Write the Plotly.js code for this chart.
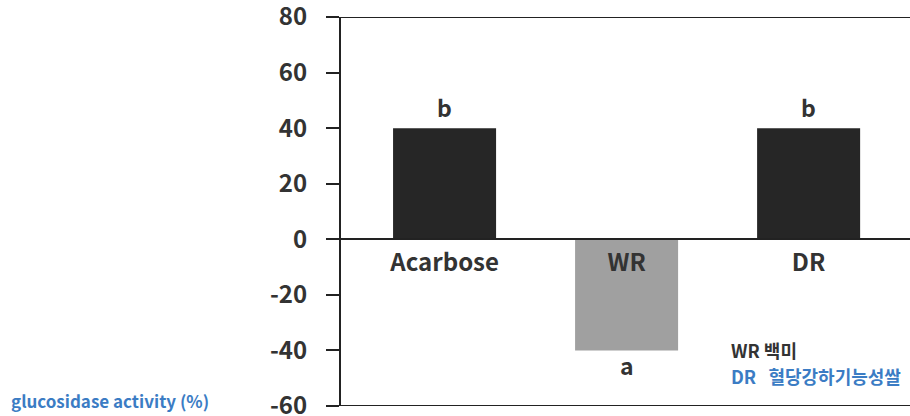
<!DOCTYPE html>
<html><head><meta charset="utf-8">
<script src="https://cdn.plot.ly/plotly-3.0.1.min.js"></script>
<style>body{margin:0;background:#fff}#c{width:910px;height:416px}</style>
</head><body><div id="c"></div>
<script>
const categories = ["Acarbose", "WR", "DR"];
const values = [40, -40, 40];
const letters = ["b", "a", "b"];
const barColors = ["#262626", "#a0a0a0", "#262626"];
const yTicks = [80, 60, 40, 20, 0, -20, -40, -60];
const legendLines = ["WR 백미", "DR   혈당강하기능성쌀"];
const axisLabel = "glucosidase activity (%)";

const F = "'Noto Sans CJK KR', 'Noto Sans', sans-serif";
const trace = {
  type: "bar", x: categories, y: values,
  marker: {color: barColors, line: {width: 0}},
  width: 0.566, hoverinfo: "none"
};
const letterNotes = categories.map((c, i) => ({
  text: letters[i], x: c, y: values[i], xref: "x", yref: "y",
  yshift: values[i] >= 0 ? 21 : -15, yanchor: "middle", showarrow: false,
  font: {family: F, size: 23, color: "#333", weight: 700}
}));
const layout = {
  width: 910, height: 416,
  margin: {l: 341, r: 0, t: 17, b: 10},
  paper_bgcolor: "#fff", plot_bgcolor: "#fff",
  showlegend: false,
  font: {family: F, color: "#333"},
  xaxis: {
    range: [-0.569, 2.557], anchor: "free", position: 60/140,
    showline: true, linecolor: "#222", linewidth: 2,
    ticks: "", showgrid: false, zeroline: false,
    ticklabelstandoff: 2,
    tickfont: {family: F, size: 24, color: "#333", weight: 700},
    fixedrange: true
  },
  yaxis: {
    range: [-60, 80], tickvals: yTicks, ticktext: yTicks.map(String),
    showline: true, linecolor: "#222", linewidth: 2,
    ticks: "outside", ticklen: 13, tickwidth: 2, tickcolor: "#222",
    ticklabelstandoff: 14, ticklabeloverflow: "allow",
    showgrid: false, zeroline: false,
    tickfont: {family: F, size: 24, color: "#333", weight: 700},
    fixedrange: true
  },
  shapes: [
    {type: "line", xref: "paper", yref: "y", x0: -13/569, x1: 1, y0: 80, y1: 80, line: {color: "#222", width: 2}},
    {type: "line", xref: "paper", yref: "y", x0: -13/569, x1: 1, y0: -60, y1: -60, line: {color: "#222", width: 2}}
  ],
  annotations: letterNotes.concat([
    {text: legendLines[0], xref: "paper", yref: "paper", x: (729-341)/569, y: (416-350-10)/389, xanchor: "left", yanchor: "middle", showarrow: false,
     font: {family: F, size: 18, color: "#333", weight: 700}},
    {text: legendLines[1], xref: "paper", yref: "paper", x: (729-341)/569, y: (416-376-10)/389, xanchor: "left", yanchor: "middle", showarrow: false,
     font: {family: F, size: 18, color: "#3b7cc4", weight: 700}},
    {text: axisLabel, xref: "paper", yref: "paper", x: (211-341)/569, y: (416-400-10)/389, xanchor: "right", yanchor: "middle", showarrow: false,
     font: {family: F, size: 17, color: "#3b7cc4", weight: 700}}
  ])
};
Plotly.newPlot("c", [trace], layout, {displayModeBar: false, staticPlot: true});
</script></body></html>
